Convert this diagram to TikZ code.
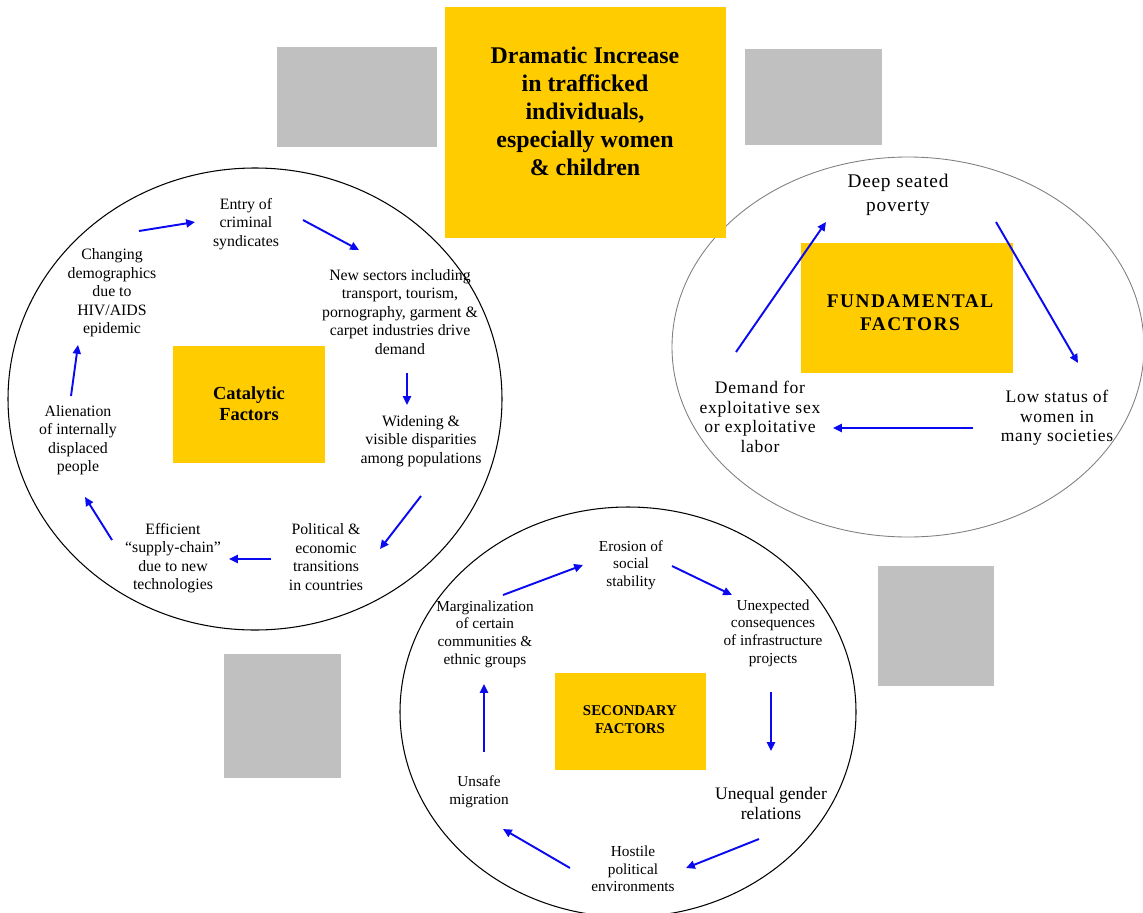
\documentclass[tikz,border=0pt]{standalone}
\usepackage{fontspec}
\setmainfont{Liberation Serif}
\newfontfamily\spacedserif[LetterSpace=4]{Liberation Serif}
\newfontfamily\widespaced[LetterSpace=8]{Liberation Serif}
\usetikzlibrary{arrows.meta,calc}

\definecolor{factoryellow}{HTML}{FFCC00}
\definecolor{blankgray}{HTML}{C0C0C0}
\definecolor{flowblue}{HTML}{0A0AF0}

\tikzset{
  flow/.style={draw=flowblue, line width=1.1pt, -{Triangle[length=5pt,width=4.6pt]}},
  ring/.style={draw=black, line width=0.6pt},
  cause/.style={align=center, inner sep=0pt, font=\fontsize{9}{10.5}\selectfont},
  basic/.style={align=center, inner sep=0pt, font=\spacedserif\fontsize{10}{11.1}\selectfont},
  minor/.style={align=center, inner sep=0pt, font=\fontsize{8.7}{10}\selectfont},
  heading/.style={align=center, inner sep=0pt, font=\bfseries}
}

\begin{document}
\begin{tikzpicture}[x=0.02cm, y=-0.02cm]
    \useasboundingbox (0,0) rectangle (1143,913);

    % the three rings
    \draw[ring] (255,399) ellipse [x radius=247, y radius=231];
    \draw[draw=gray, line width=0.5pt] (908,347) ellipse [x radius=236, y radius=190];
    \draw[ring] (628,712) ellipse [x radius=228, y radius=205];

    % empty grey boxes
    \fill[blankgray] (277,47) rectangle (437,147);
    \fill[blankgray] (745,49) rectangle (882,145);
    \fill[blankgray] (224,654) rectangle (341,778);
    \fill[blankgray] (878,566) rectangle (994,686);

    % yellow boxes
    \fill[factoryellow] (445,7) rectangle (726,238);
    \fill[factoryellow] (173,346) rectangle (325,463);
    \fill[factoryellow] (801,243) rectangle (1013,373);
    \fill[factoryellow] (555,673) rectangle (706,770);

    \node[heading, font=\bfseries\fontsize{13.6}{15.9}\selectfont] (increase) at (585,111)
      {Dramatic Increase\\in trafficked\\individuals,\\especially women\\\& children};
    \node[heading, font=\bfseries\fontsize{10.5}{12}\selectfont] (catalytic) at (249,404) {Catalytic\\Factors};
    \node[heading, font=\widespaced\bfseries\fontsize{11}{13}\selectfont] (fundamental) at (910,313) {FUNDAMENTAL\\FACTORS};
    \node[heading, font=\bfseries\fontsize{8.5}{10.2}\selectfont] (secondary) at (630,720) {SECONDARY\\FACTORS};

    % catalytic factors
    \node[cause] (entry) at (246,224) {Entry of\\criminal\\syndicates};
    \node[cause] (sectors) at (400,312) {New sectors including\\transport, tourism,\\pornography, garment \&\\carpet industries drive\\demand};
    \node[cause] (widening) at (421,441) {Widening \&\\visible disparities\\among populations};
    \node[cause] (political) at (326,557) {Political \&\\economic\\transitions\\in countries};
    \node[cause] (efficient) at (173,558) {Efficient\\``supply-chain''\\due to new\\technologies};
    \node[cause] (alienation) at (78,440) {Alienation\\of internally\\displaced\\people};
    \node[cause] (changing) at (112,293) {Changing\\demographics\\due to\\HIV/AIDS\\epidemic};

    \draw[flow] ($(changing)+(27,-62)$) -- ($(entry)+(-51,-2)$);
    \draw[flow] ($(entry)+(57,-4)$) -- ($(sectors)+(-41,-62)$);
    \draw[flow] ($(sectors)+(7,61)$) -- ($(widening)+(-14,-36)$);
    \draw[flow] ($(widening)+(0,55)$) -- ($(political)+(54,-8)$);
    \draw[flow] ($(political)+(-55,2)$) -- ($(efficient)+(56,1)$);
    \draw[flow] ($(efficient)+(-61,-18)$) -- ($(alienation)+(7,57)$);
    \draw[flow] ($(alienation)+(-7,-44)$) -- ($(changing)+(-34,52)$);

    % fundamental factors
    \node[basic, font=\spacedserif\fontsize{11}{13.7}\selectfont] (poverty) at (898,195) {Deep seated\\poverty};
    \node[basic] (lowstatus) at (1057,418) {Low status of\\women in\\many societies};
    \node[basic] (demand) at (760,417) {Demand for\\exploitative sex\\or exploitative\\labor};

    \draw[flow] ($(demand)+(-24,-65)$) -- ($(poverty)+(-72,27)$);
    \draw[flow] ($(poverty)+(98,27)$) -- ($(lowstatus)+(21,-55)$);
    \draw[flow] ($(lowstatus)+(-84,10)$) -- ($(demand)+(73,11)$);

    % secondary factors
    \node[minor] (erosion) at (631,565) {Erosion of\\social\\stability};
    \node[minor] (unexpected) at (773,633) {Unexpected\\consequences\\of infrastructure\\projects};
    \node[minor, font=\fontsize{10}{11.4}\selectfont] (unequal) at (771,803) {Unequal gender\\relations};
    \node[minor] (hostile) at (633,869) {Hostile\\political\\environments};
    \node[minor] (unsafe) at (479,792) {Unsafe\\migration};
    \node[minor] (margin) at (485,634) {Marginalization\\of certain\\communities \&\\ethnic groups};

    \draw[flow] ($(margin)+(18,-39)$) -- ($(erosion)+(-48,0)$);
    \draw[flow] ($(erosion)+(41,1)$) -- ($(unexpected)+(-41,-38)$);
    \draw[flow] ($(unexpected)+(-2,59)$) -- ($(unequal)+(0,-52)$);
    \draw[flow] ($(unequal)+(-12,36)$) -- ($(hostile)+(53,-1)$);
    \draw[flow] ($(hostile)+(-63,-1)$) -- ($(unsafe)+(24,37)$);
    \draw[flow] ($(unsafe)+(5,-40)$) -- ($(margin)+(-1,50)$);
\end{tikzpicture}
\end{document}
